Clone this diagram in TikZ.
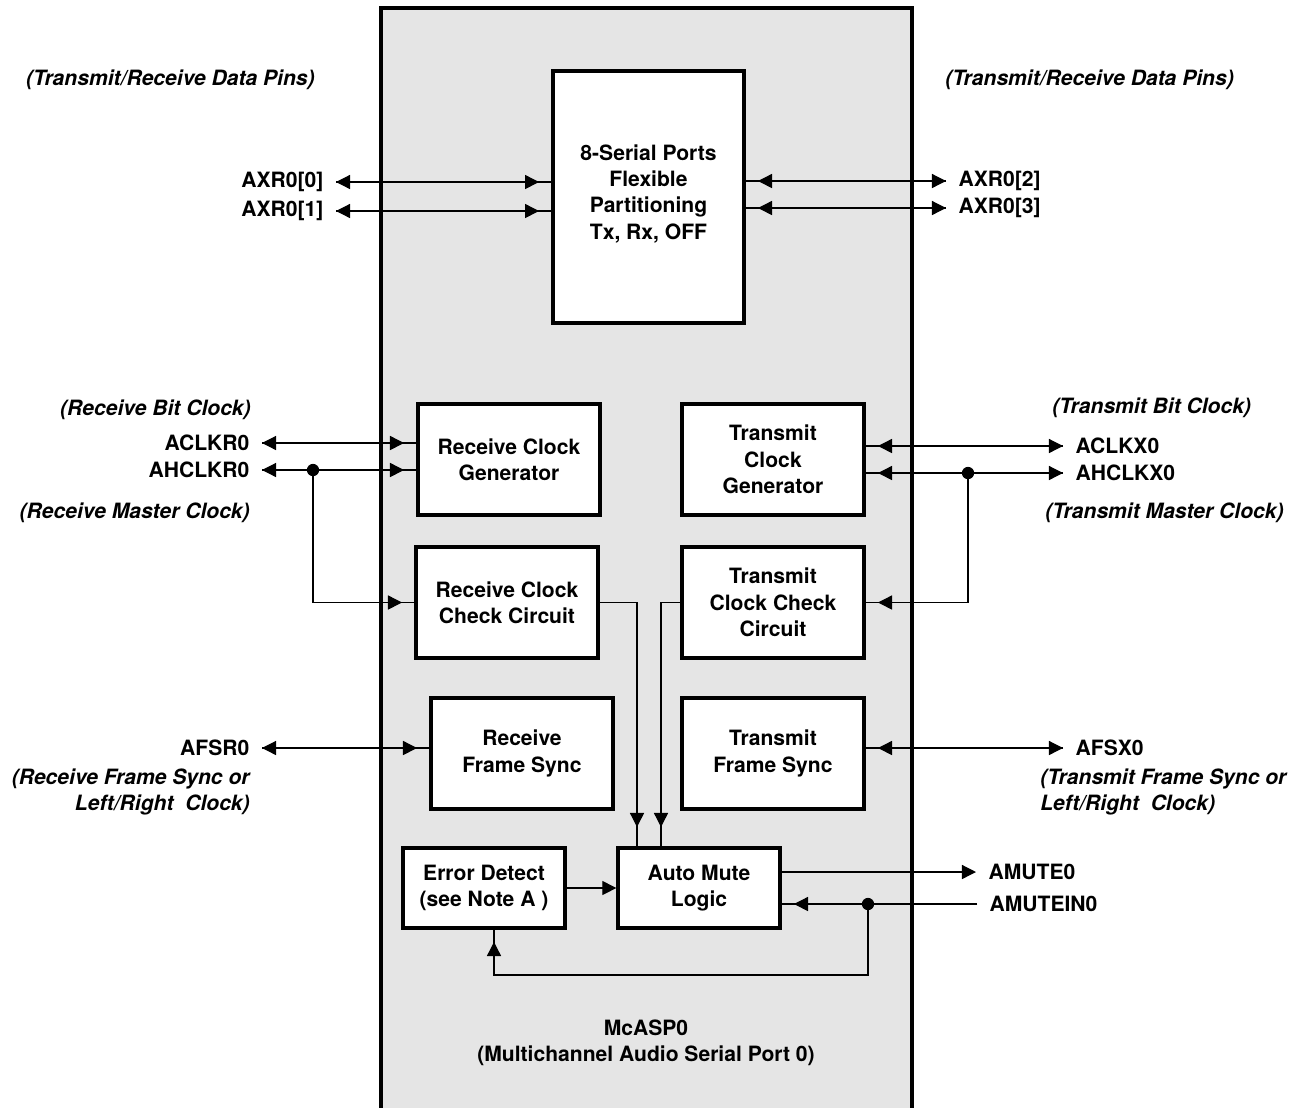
\documentclass[tikz,border=0pt]{standalone}
\usepackage{fontspec}
\setmainfont{TeX Gyre Heros}
\usetikzlibrary{arrows.meta,positioning}
\newcommand{\figfont}{\fontsize{12}{15}\selectfont\bfseries}
\tikzset{
  Block/.style={draw, line width=1.9pt, fill=white, align=center},
  Clock/.style={Block, minimum width=3.64cm, minimum height=2.22cm},
  Small/.style={Block, minimum width=3.24cm, minimum height=1.6cm},
  Pin/.style={inner xsep=7pt, inner ysep=1pt},
  Note/.style={font=\figfont\itshape, inner sep=0pt},
  Wire/.style={line width=0.7pt},
  Tip/.style={-{Triangle[length=8pt,width=8pt]}},
  Both/.style={Wire, {Triangle[length=8pt,width=8pt]}-, postaction={draw, Tip, shorten >=7pt}},
  Into/.style={Wire, postaction={draw, Tip, shorten >=7pt}},
  Down/.style={Wire, postaction={draw, Tip, shorten >=11pt}},
  Dot/.style={circle, fill, inner sep=0pt, minimum size=7pt},
}

\begin{document}
\begin{tikzpicture}[x=0.02cm, y=-0.02cm, every node/.style={font=\figfont}]
  \useasboundingbox (0,0) rectangle (1299,1107);
  % McASP0 outline
  \draw[line width=1.9pt, fill=gray!20] (381,8) rectangle (912,1130);

  % blocks
  \node[Block, minimum width=3.82cm, minimum height=5.04cm] (serial) at (648.5,197)
    {8-Serial Ports\\Flexible\\Partitioning\\Tx, Rx, OFF\\[-9pt]};
  \node[Clock] (rcg)   at (509,459.5) {Receive Clock\\Generator};
  \node[Clock] (tcg)   at (773,459.5) {Transmit\\Clock\\Generator};
  \node[Clock] (rcc)   at (507,602.5) {Receive Clock\\Check Circuit};
  \node[Clock] (tcc)   at (773,602.5) {Transmit\\Clock Check\\Circuit};
  \node[Clock] (rfs)   at (522,753.5) {Receive\\Frame Sync};
  \node[Clock] (tfs)   at (773,753.5) {Transmit\\Frame Sync};
  \node[Small] (err)   at (484,888)   {Error Detect\\(see Note A )};
  \node[Small] (amute) at (699,888)   {Auto Mute\\Logic};
  \node[align=center] (mcasp) at (646,1043) {McASP0\\(Multichannel Audio Serial Port 0)};

  % pins
  \node[Pin, anchor=east] (axr0)    at (336,182)  {AXR0[0]};
  \node[Pin, anchor=east] (axr1)    at (336,211)  {AXR0[1]};
  \node[Pin, anchor=west] (axr2)    at (946,181)  {AXR0[2]};
  \node[Pin, anchor=west] (axr3)    at (946,208)  {AXR0[3]};
  \node[Pin, anchor=east] (aclkr)   at (262,443)  {ACLKR0};
  \node[Pin, anchor=east] (ahclkr)  at (262,470)  {AHCLKR0};
  \node[Pin, anchor=west] (aclkx)   at (1063,446) {ACLKX0};
  \node[Pin, anchor=west] (ahclkx)  at (1063,473) {AHCLKX0};
  \node[Pin, anchor=east] (afsr)    at (262,748)  {AFSR0};
  \node[Pin, anchor=west] (afsx)    at (1063,748) {AFSX0};
  \node[Pin, anchor=west] (amuteo)  at (976,872)  {AMUTE0};
  \node[Pin, anchor=west] (amutei)  at (977,904)  {AMUTEIN0};

  % notes
  \node[Note, anchor=east] (datal)  at (315,80)  {(Transmit/Receive Data Pins)};
  \node[Note, anchor=west] (datar)  at (945,80)  {(Transmit/Receive Data Pins)};
  \node[Note, anchor=east] (rbit)   at (251,410) {(Receive Bit Clock)};
  \node[Note, anchor=east] (rmst)   at (250,513) {(Receive Master Clock)};
  \node[Note, anchor=west] (tbit)   at (1052,408) {(Transmit Bit Clock)};
  \node[Note, anchor=west] (tmst)   at (1045,513) {(Transmit Master Clock)};
  \node[Note, anchor=east, align=right] (rfsn) at (250,792) {(Receive Frame Sync or\\Left/Right~ Clock)};
  \node[Note, anchor=west, align=left]  (tfsn) at (1040,792) {(Transmit Frame Sync or\\Left/Right~ Clock)};

  % junctions
  \coordinate (rjoin) at (313,470);
  \coordinate (tjoin) at (968,473);
  \coordinate (mjoin) at (868,904);
  \coordinate (mloop) at (868,975);

  % data pins
  \draw[Both] (axr0.east) -- (axr0.east -| serial.west);
  \draw[Both] (axr1.east) -- (axr1.east -| serial.west);
  \draw[Both] (axr2.west) -- (axr2.west -| serial.east);
  \draw[Both] (axr3.west) -- (axr3.west -| serial.east);

  % clocks
  \draw[Both] (aclkr.east)  -- (aclkr.east -| rcg.west);
  \draw[Both] (ahclkr.east) -- (ahclkr.east -| rcg.west);
  \draw[Both] (aclkx.west)  -- (aclkx.west -| tcg.east);
  \draw[Both] (ahclkx.west) -- (ahclkx.west -| tcg.east);
  \draw[Into] (rjoin) |- (rcc.west);
  \draw[Into] (tjoin) |- (tcc.east);
  \node[Dot] at (rjoin) {};
  \node[Dot] at (tjoin) {};

  % frame sync
  \draw[Both] (afsr.east) -- (afsr.east -| rfs.west);
  \draw[Both] (afsx.west) -- (afsx.west -| tfs.east);

  % auto mute
  \draw[Down] (rcc.east) -| ([xshift=-1.24cm]amute.north);
  \draw[Down] (tcc.west) -| ([xshift=-0.76cm]amute.north);
  \draw[Wire, Tip] (err.east) -- (amute.west);
  \draw[Wire, Tip] (amuteo.west -| amute.east) -- (amuteo.west);
  \draw[Into] (amutei.west) -- (amutei.west -| amute.east);
  \draw[Into] (mjoin) -- (mloop) -| ([xshift=0.2cm]err.south);
  \node[Dot] at (mjoin) {};
\end{tikzpicture}
\end{document}
